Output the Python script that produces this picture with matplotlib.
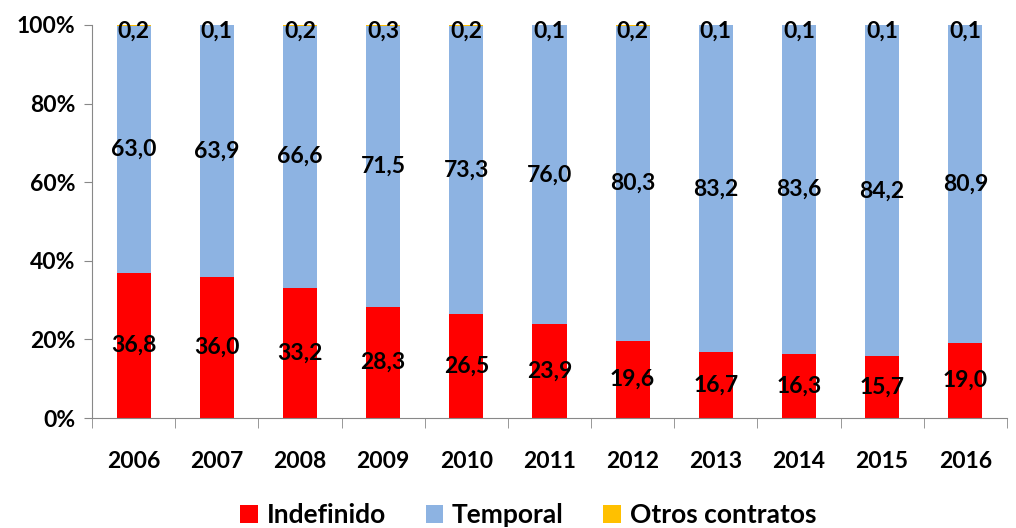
import numpy as np
import matplotlib.pyplot as plt

plt.rcParams['font.family'] = ['Lato', 'DejaVu Sans']
plt.rcParams['font.weight'] = 'bold'

years = ['2006', '2007', '2008', '2009', '2010', '2011', '2012', '2013', '2014', '2015', '2016']
indefinido = [36.8, 36.0, 33.2, 28.3, 26.5, 23.9, 19.6, 16.7, 16.3, 15.7, 19.0]
temporal = [63.0, 63.9, 66.6, 71.5, 73.3, 76.0, 80.3, 83.2, 83.6, 84.2, 80.9]
otros = [0.2, 0.1, 0.2, 0.3, 0.2, 0.1, 0.2, 0.1, 0.1, 0.1, 0.1]

c_ind = '#ff0000'
c_tem = '#8db3e2'
c_otr = '#ffc000'

fig = plt.figure(figsize=(10.16, 5.28), dpi=100)
ax = fig.add_axes([0.0906, 0.2083, 0.9004, 0.7444])

x = np.arange(len(years))
w = 0.41
ind = np.array(indefinido)
tem = np.array(temporal)
otr = np.array(otros)
tot = ind + tem + otr
ind_p = ind / tot * 100
tem_p = tem / tot * 100
otr_p = otr / tot * 100

ax.bar(x, ind_p, w, color=c_ind, label='Indefinido')
ax.bar(x, tem_p, w, bottom=ind_p, color=c_tem, label='Temporal')
ax.bar(x, otr_p, w, bottom=ind_p + tem_p, color=c_otr, label='Otros contratos')

fs = 16.5
for i in range(len(years)):
    ax.text(x[i], ind_p[i] / 2, f'{indefinido[i]:.1f}'.replace('.', ','),
            ha='center', va='center', fontsize=fs, fontweight='bold')
    ax.text(x[i], ind_p[i] + tem_p[i] / 2, f'{temporal[i]:.1f}'.replace('.', ','),
            ha='center', va='center', fontsize=fs, fontweight='bold')
    ax.text(x[i], 98.4, f'{otros[i]:.1f}'.replace('.', ','),
            ha='center', va='center', fontsize=fs, fontweight='bold')

ax.set_xlim(-0.5, len(years) - 0.5)
ax.set_ylim(0, 100)
ax.set_yticks([0, 20, 40, 60, 80, 100])
ax.set_yticklabels(['0%', '20%', '40%', '60%', '80%', '100%'])
ax.set_xticks(x)
ax.set_xticklabels(years)
ax.set_xticks(np.arange(-0.5, len(years), 1), minor=True)
ax.tick_params(axis='x', which='major', length=0, pad=24, labelsize=fs)
ax.tick_params(axis='x', which='minor', length=7, color='#888888', direction='out')
ax.tick_params(axis='y', length=6, color='#888888', labelsize=fs, pad=6)

for s in ['top', 'right']:
    ax.spines[s].set_visible(False)
ax.spines['left'].set_color('#888888')
ax.spines['bottom'].set_color('#888888')

handles, labels = ax.get_legend_handles_labels()
fig.legend(handles, labels, loc='center', bbox_to_anchor=(0.52, 0.024), ncol=3,
           frameon=False, fontsize=19, handlelength=0.65, handleheight=0.65,
           columnspacing=1.5, handletextpad=0.35, borderpad=0)

fig.savefig('out.png', dpi=100)
